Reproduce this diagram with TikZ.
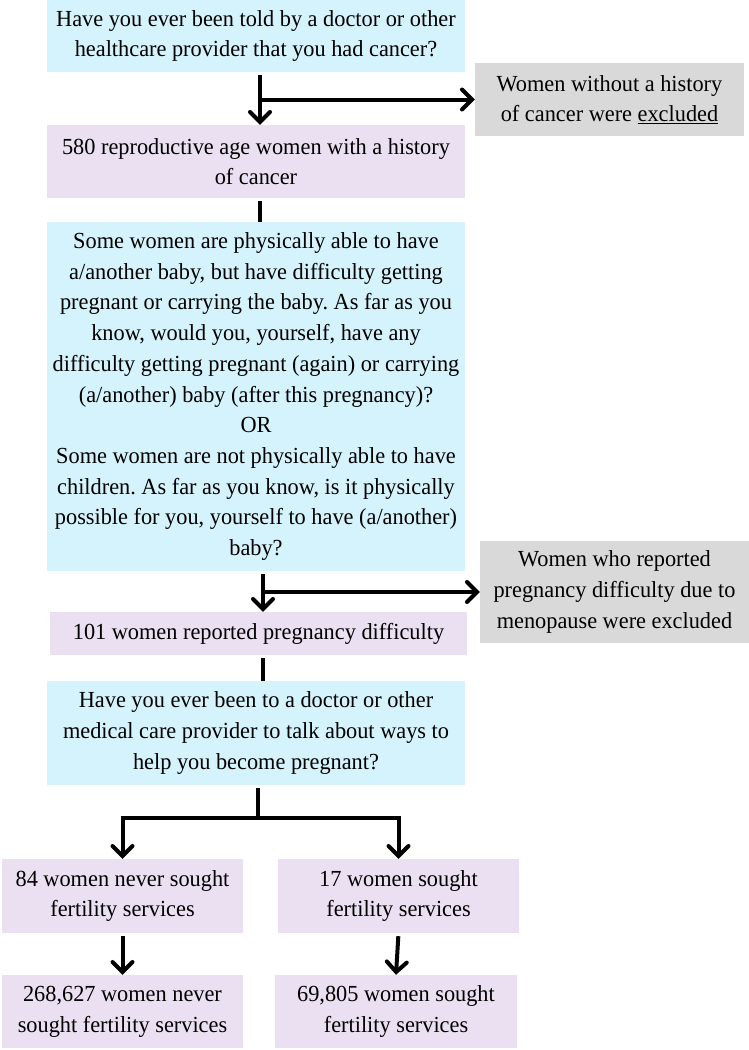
\documentclass[tikz,border=0pt]{standalone}
\usepackage{fontspec}
\setmainfont{Liberation Serif}[FakeStretch=0.97]
\usetikzlibrary{calc}
\usetikzlibrary{positioning}
\usetikzlibrary{arrows.meta}

\definecolor{askcyan}{RGB}{213,243,252}
\definecolor{countpurple}{RGB}{234,224,241}
\definecolor{dropgray}{RGB}{217,217,217}

\begin{document}
\begin{tikzpicture}[%
  x=1pt, y=-1pt,
  >={Straight Barb[length=10pt,width=20pt,line cap=round]},
  box/.style={inner sep=0pt, align=center, font=\fontsize{23}{30.7}\selectfont\frenchspacing},
  ask/.style={box, fill=askcyan, minimum width=418pt},
  count/.style={box, fill=countpurple},
  drop/.style={box, fill=dropgray, minimum width=269pt},
  link/.style={line width=4pt},
]

  \useasboundingbox (0,0) rectangle (749,1050);

  % questions and counts down the middle
  \node[ask, minimum height=72pt] (q1) at (256,36)
    {Have you ever been told by a doctor or other\\healthcare provider that you had cancer?};
  \node[count, minimum width=418pt, minimum height=73pt] (n580) at (256,161.5)
    {580 reproductive age women with a history\\of cancer};
  \node[ask, minimum height=349pt] (q2) at (256,396.5)
    {Some women are physically able to have\\a/another baby, but have difficulty getting\\%
     pregnant or carrying the baby. As far as you\\know, would you, yourself, have any\\%
     difficulty getting pregnant (again) or carrying\\(a/another) baby (after this pregnancy)?\\%
     OR\\Some women are not physically able to have\\children. As far as you know, is it physically\\%
     possible for you, yourself to have (a/another)\\baby?};
  \node[count, minimum width=417pt, minimum height=43pt] (n101) at (258.5,633.5)
    {101 women reported pregnancy difficulty};
  \node[ask, minimum height=104pt] (q3) at (256,733)
    {Have you ever been to a doctor or other\\medical care provider to talk about ways to\\help you become pregnant?};

  % exclusions
  \node[drop, minimum height=73pt] (ex1) at (609.5,99.5)
    {Women without a history\\of cancer were \underline{excluded}};
  \node[drop, minimum height=102pt] (ex2) at (614.5,592)
    {Women who reported\\pregnancy difficulty due to\\menopause were excluded};

  % two branches
  \node[count, minimum width=241pt, minimum height=74pt] (nL1) at (122.5,896)
    {84 women never sought\\fertility services};
  \node[count, minimum width=241pt, minimum height=74pt] (nR1) at (398.5,896)
    {17 women sought\\fertility services};
  \node[count, minimum width=241pt, minimum height=73pt] (nL2) at (122.5,1011.5)
    {268,627 women never\\sought fertility services};
  \node[count, minimum width=242pt, minimum height=73pt] (nR2) at (396,1011.5)
    {69,805 women sought\\fertility services};

  \draw[link,->,shorten <=3pt] ([xshift=4pt]q1.south) -- ([xshift=4pt]n580.north);
  \draw[link,->] ([xshift=4pt]q1.south |- ex1.west) -- (ex1.west);
  \draw[link,shorten <=3pt] ([xshift=4pt]n580.south) -- ([xshift=4pt]q2.north);

  \draw[link,->,shorten <=3pt] ([xshift=7pt]q2.south) -- ([xshift=7pt]q2.south |- n101.north);
  \draw[link,->] ([xshift=7pt]q2.south |- ex2.west) -- (ex2.west);
  \draw[link,shorten <=3pt] ([xshift=4pt]n101.south) -- ([xshift=4pt]n101.south |- q3.north);

  \coordinate (fork) at (258,818);
  \draw[link,shorten <=3pt] ([xshift=2pt]q3.south) -- ([xshift=2pt]q3.south |- fork);
  \draw[link,->] ([xshift=2pt]q3.south |- fork) -| (nL1.north);
  \draw[link,->] ([xshift=2pt]q3.south |- fork) -| (nR1.north);

  \draw[link,->,shorten <=3pt] (nL1.south) -- (nL2.north);
  \draw[link,->,shorten <=3pt] (nR1.south) -- (nR2.north);

\end{tikzpicture}
\end{document}
